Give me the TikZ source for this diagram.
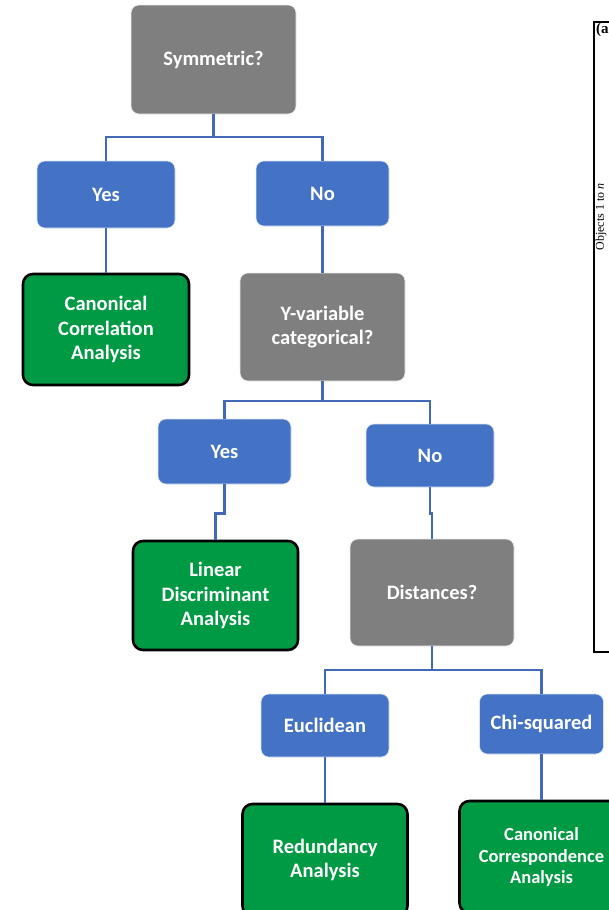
\documentclass[tikz,border=0pt]{standalone}
\usepackage{fontspec}
\setmainfont{Carlito}
\newfontfamily\timesfont{Liberation Serif}
\definecolor{qgray}{HTML}{7F7F7F}
\definecolor{qblue}{HTML}{4472C4}
\definecolor{qgreen}{HTML}{009A44}
\definecolor{qline}{HTML}{4169B8}
\begin{document}
\begin{tikzpicture}[x=1pt,y=-1pt,
  box/.style={rounded corners=8pt, align=center, text=white, inner sep=2pt,
    font=\bfseries\fontsize{20.5}{24.5}\selectfont},
  question/.style={box, fill=qgray, draw=white!85!qgray, line width=0.6pt},
  answer/.style={box, fill=qblue, draw=white!80!qblue, line width=0.6pt},
  result/.style={box, fill=qgreen, draw=black, line width=2.6pt, rounded corners=10pt},
  link/.style={draw=qline, line width=2.6pt},
  frame/.style={draw=black, line width=1.8pt}]
\useasboundingbox (0,0) rectangle (608,910);
% nodes
\node[question, minimum width=165pt, minimum height=109pt] (sym) at (213.5,59.5) {Symmetric?};
\node[answer, minimum width=138pt, minimum height=67pt] (yes1) at (106,194.5) {Yes};
\node[answer, minimum width=133pt, minimum height=65pt] (no1) at (322.5,193.5) {No};
\node[result, minimum width=166pt, minimum height=111pt] (cca) at (106,329.5) {Canonical\\Correlation\\Analysis};
\node[question, minimum width=165pt, minimum height=108pt] (yvar) at (322.5,327) {Y-variable\\categorical?};
\node[answer, minimum width=133pt, minimum height=65pt] (yes2) at (224.5,451.5) {Yes};
\node[answer, minimum width=128pt, minimum height=63pt] (no2) at (430,455.5) {No};
\node[result, minimum width=165pt, minimum height=109pt] (lda) at (215.5,595.5) {Linear\\Discriminant\\Analysis};
\node[question, minimum width=164pt, minimum height=107pt] (dist) at (432,592.5) {Distances?};
\node[answer, minimum width=128pt, minimum height=63pt] (eucl) at (325,725.5) {Euclidean};
\node[answer, minimum width=124pt, minimum height=60pt] (chi) at (541.5,724) {Chi-squared};
\node[result, minimum width=165pt, minimum height=112pt] (ra) at (325,860) {Redundancy\\Analysis};
\node[result, minimum width=164pt, minimum height=112pt,
  font=\bfseries\fontsize{18.5}{21.5}\selectfont] (ccora) at (541.5,857) {Canonical\\Correspondence\\Analysis};
% connectors
\coordinate (j1) at (213.5,137);
\draw[link] (sym.south) -- (j1) -| (yes1.north);
\draw[link] (j1) -| (no1.north);
\draw[link] (yes1.south) -- (cca.north);
\draw[link] (no1.south) -- (yvar.north);
\coordinate (j2) at (322.5,401);
\draw[link] (yvar.south) -- (j2) -| (yes2.north);
\draw[link] (j2) -| (no2.north);
\draw[link] (yes2.south) -- ++(0,29) -| (lda.north);
\draw[link] (no2.south) -- ++(0,26) -| (dist.north);
\coordinate (j3) at (432,670);
\draw[link] (dist.south) -- (j3) -| (eucl.north);
\draw[link] (j3) -| (chi.north);
\draw[link] (eucl.south) -- (ra.north);
\draw[link] (chi.south) -- (ccora.north);
% partial figure at right edge
\coordinate (fa) at (594,22);
\coordinate (fb) at (594,652);
\draw[frame] (620,22) -- (fa) -- (fb) -- (620,652);
\node[anchor=north west, inner sep=0pt, font=\timesfont\bfseries\fontsize{15}{15}\selectfont] (flab) at (596,23) {(a};
\node[rotate=90, inner sep=0pt, font=\timesfont\fontsize{12}{12}\selectfont] (fobj) at (601,217) {Objects 1 to \textit{n}};
\end{tikzpicture}
\end{document}
